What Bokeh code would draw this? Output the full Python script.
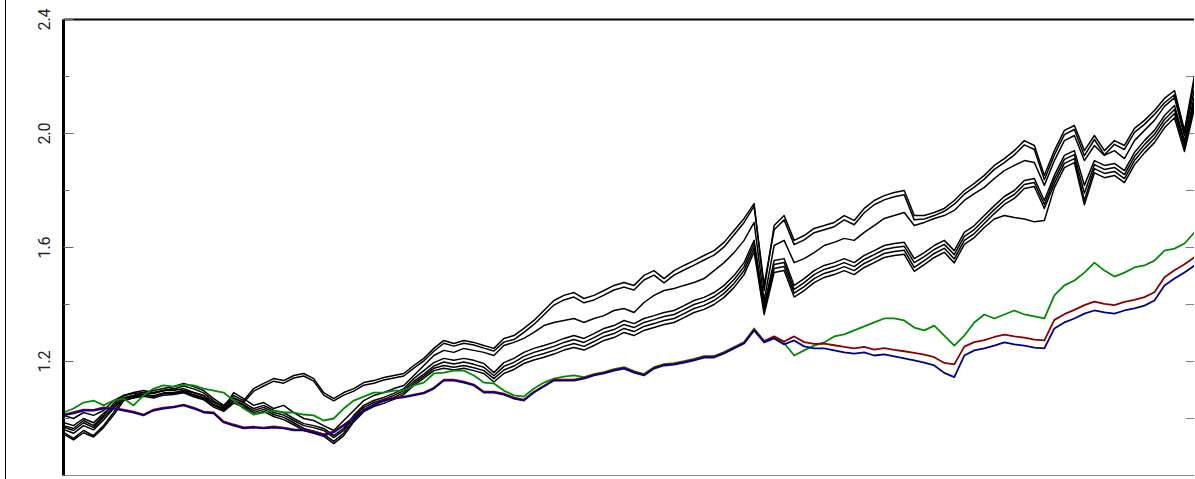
from bokeh.plotting import figure
from bokeh.models import Range1d, LinearAxis, FixedTicker, PrintfTickFormatter
from bokeh.embed import file_html
from bokeh.resources import INLINE

# Growth of 1 invested, sampled at regular observation steps
green_series = [
    1.021, 1.035, 1.056, 1.063, 1.046, 1.063, 1.070, 1.046, 1.081, 1.105,
    1.116, 1.112, 1.119, 1.116, 1.105, 1.098, 1.091, 1.063, 1.035, 1.014,
    1.021, 1.028, 1.021, 1.021, 1.014, 1.011, 0.993, 1.000, 1.035, 1.063,
    1.077, 1.091, 1.091, 1.098, 1.098, 1.116, 1.126, 1.158, 1.161, 1.168,
    1.168, 1.151, 1.126, 1.123, 1.098, 1.081, 1.077, 1.105, 1.126, 1.140,
    1.147, 1.151, 1.145, 1.156, 1.163, 1.173, 1.180, 1.166, 1.156, 1.180,
    1.191, 1.194, 1.201, 1.209, 1.219, 1.219, 1.233, 1.251, 1.268, 1.316,
    1.272, 1.285, 1.265, 1.221, 1.239, 1.256, 1.267, 1.288, 1.295, 1.309,
    1.323, 1.337, 1.351, 1.351, 1.344, 1.319, 1.309, 1.326, 1.291, 1.256,
    1.291, 1.337, 1.365, 1.351, 1.365, 1.379, 1.365, 1.358, 1.351, 1.432,
    1.467, 1.484, 1.512, 1.547, 1.519, 1.498, 1.512, 1.530, 1.537, 1.554,
    1.589, 1.596, 1.614, 1.653,
]

red_series = [
    1.014, 1.022, 1.031, 1.030, 1.039, 1.037, 1.031, 1.024, 1.014, 1.031,
    1.038, 1.042, 1.049, 1.038, 1.024, 1.021, 0.990, 0.979, 0.969, 0.971,
    0.968, 0.972, 0.968, 0.962, 0.961, 0.955, 0.944, 0.955, 0.978, 1.004,
    1.031, 1.049, 1.066, 1.073, 1.077, 1.084, 1.091, 1.108, 1.136, 1.136,
    1.129, 1.119, 1.094, 1.094, 1.087, 1.073, 1.066, 1.094, 1.115, 1.136,
    1.136, 1.136, 1.143, 1.154, 1.161, 1.171, 1.178, 1.164, 1.154, 1.178,
    1.189, 1.192, 1.199, 1.207, 1.217, 1.217, 1.231, 1.249, 1.266, 1.312,
    1.272, 1.288, 1.270, 1.288, 1.268, 1.262, 1.263, 1.257, 1.251, 1.246,
    1.251, 1.242, 1.247, 1.241, 1.236, 1.230, 1.224, 1.215, 1.195, 1.190,
    1.252, 1.268, 1.275, 1.286, 1.294, 1.288, 1.284, 1.277, 1.274, 1.346,
    1.366, 1.381, 1.398, 1.410, 1.402, 1.398, 1.409, 1.416, 1.426, 1.443,
    1.496, 1.520, 1.541, 1.566,
]

blue_series = [
    1.011, 1.018, 1.028, 1.028, 1.035, 1.035, 1.028, 1.021, 1.011, 1.028,
    1.035, 1.039, 1.046, 1.035, 1.021, 1.018, 0.986, 0.975, 0.965, 0.968,
    0.965, 0.968, 0.965, 0.958, 0.958, 0.951, 0.940, 0.951, 0.975, 1.000,
    1.028, 1.046, 1.063, 1.070, 1.074, 1.081, 1.088, 1.105, 1.133, 1.133,
    1.126, 1.116, 1.091, 1.091, 1.084, 1.070, 1.063, 1.091, 1.112, 1.133,
    1.133, 1.133, 1.140, 1.151, 1.158, 1.168, 1.175, 1.161, 1.151, 1.175,
    1.186, 1.189, 1.196, 1.204, 1.214, 1.214, 1.228, 1.246, 1.263, 1.309,
    1.267, 1.281, 1.260, 1.274, 1.253, 1.246, 1.246, 1.239, 1.232, 1.228,
    1.232, 1.221, 1.225, 1.218, 1.211, 1.204, 1.196, 1.186, 1.160, 1.145,
    1.221, 1.239, 1.246, 1.256, 1.267, 1.260, 1.256, 1.249, 1.246, 1.316,
    1.337, 1.351, 1.368, 1.379, 1.372, 1.368, 1.379, 1.386, 1.396, 1.414,
    1.467, 1.491, 1.512, 1.537,
]

black_t1 = [
    0.951, 0.930, 0.958, 0.940, 0.975, 1.021, 1.070, 1.081, 1.091, 1.098,
    1.105, 1.112, 1.123, 1.112, 1.098, 1.070, 1.046, 1.081, 1.063, 1.105,
    1.123, 1.140, 1.133, 1.151, 1.158, 1.140, 1.091, 1.070, 1.091, 1.105,
    1.126, 1.133, 1.144, 1.151, 1.158, 1.186, 1.211, 1.246, 1.274, 1.263,
    1.274, 1.267, 1.256, 1.246, 1.281, 1.291, 1.316, 1.344, 1.379, 1.414,
    1.432, 1.442, 1.421, 1.432, 1.449, 1.467, 1.477, 1.467, 1.502, 1.519,
    1.491, 1.519, 1.537, 1.554, 1.572, 1.589, 1.618, 1.660, 1.702, 1.754,
    1.449, 1.677, 1.712, 1.625, 1.642, 1.667, 1.677, 1.688, 1.712, 1.695,
    1.737, 1.765, 1.782, 1.793, 1.800, 1.712, 1.712, 1.723, 1.737, 1.765,
    1.800, 1.825, 1.853, 1.888, 1.912, 1.940, 1.975, 1.958, 1.853, 1.940,
    2.011, 2.028, 1.940, 1.993, 1.940, 1.975, 1.958, 2.018, 2.046, 2.081,
    2.123, 2.151, 2.011, 2.204,
]

black_t2 = [
    0.945, 0.925, 0.950, 0.935, 0.968, 1.012, 1.062, 1.073, 1.084, 1.090,
    1.097, 1.104, 1.114, 1.104, 1.090, 1.062, 1.040, 1.073, 1.056, 1.096,
    1.114, 1.131, 1.124, 1.142, 1.149, 1.131, 1.082, 1.062, 1.082, 1.096,
    1.117, 1.124, 1.135, 1.142, 1.149, 1.177, 1.202, 1.236, 1.264, 1.254,
    1.264, 1.258, 1.247, 1.237, 1.268, 1.277, 1.302, 1.330, 1.364, 1.398,
    1.416, 1.426, 1.406, 1.416, 1.433, 1.451, 1.461, 1.451, 1.486, 1.503,
    1.476, 1.503, 1.521, 1.538, 1.556, 1.573, 1.602, 1.645, 1.688, 1.745,
    1.470, 1.662, 1.697, 1.610, 1.627, 1.652, 1.662, 1.673, 1.697, 1.680,
    1.722, 1.750, 1.767, 1.778, 1.785, 1.697, 1.700, 1.712, 1.727, 1.752,
    1.787, 1.812, 1.840, 1.874, 1.898, 1.925, 1.960, 1.944, 1.838, 1.925,
    1.996, 2.014, 1.922, 1.979, 1.925, 1.962, 1.944, 2.004, 2.032, 2.067,
    2.108, 2.136, 1.998, 2.188,
]

black_m = [
    1.011, 1.000, 1.021, 1.011, 1.028, 1.063, 1.081, 1.091, 1.098, 1.091,
    1.098, 1.105, 1.098, 1.091, 1.081, 1.046, 1.035, 1.091, 1.070, 1.046,
    1.056, 1.035, 1.046, 1.021, 1.000, 0.993, 0.975, 0.958, 0.993, 1.028,
    1.063, 1.081, 1.091, 1.105, 1.116, 1.151, 1.186, 1.221, 1.239, 1.232,
    1.246, 1.239, 1.232, 1.221, 1.256, 1.267, 1.281, 1.302, 1.326, 1.337,
    1.344, 1.351, 1.337, 1.351, 1.361, 1.379, 1.386, 1.372, 1.407, 1.432,
    1.449, 1.456, 1.467, 1.477, 1.491, 1.519, 1.547, 1.582, 1.625, 1.688,
    1.414, 1.607, 1.625, 1.547, 1.561, 1.582, 1.607, 1.618, 1.632, 1.625,
    1.653, 1.677, 1.702, 1.712, 1.723, 1.677, 1.688, 1.702, 1.712, 1.730,
    1.765, 1.789, 1.811, 1.842, 1.870, 1.888, 1.905, 1.898, 1.818, 1.905,
    1.975, 1.993, 1.905, 1.958, 1.923, 1.940, 1.912, 1.975, 2.011, 2.046,
    2.095, 2.126, 1.993, 2.158,
]

black_l1 = [
    0.975, 0.965, 0.993, 0.975, 1.011, 1.053, 1.081, 1.088, 1.091, 1.088,
    1.098, 1.098, 1.105, 1.091, 1.081, 1.056, 1.042, 1.070, 1.056, 1.035,
    1.046, 1.028, 1.021, 1.000, 0.982, 0.975, 0.965, 0.940, 0.965, 1.011,
    1.046, 1.063, 1.074, 1.088, 1.105, 1.140, 1.168, 1.196, 1.211, 1.204,
    1.211, 1.204, 1.193, 1.161, 1.196, 1.211, 1.232, 1.246, 1.256, 1.267,
    1.281, 1.291, 1.281, 1.298, 1.316, 1.326, 1.344, 1.333, 1.351, 1.361,
    1.372, 1.379, 1.396, 1.414, 1.425, 1.442, 1.467, 1.502, 1.547, 1.625,
    1.396, 1.554, 1.561, 1.467, 1.491, 1.519, 1.537, 1.547, 1.561, 1.547,
    1.572, 1.589, 1.607, 1.614, 1.618, 1.561, 1.582, 1.607, 1.625, 1.589,
    1.653, 1.677, 1.712, 1.747, 1.779, 1.800, 1.835, 1.842, 1.765, 1.853,
    1.923, 1.940, 1.818, 1.905, 1.888, 1.895, 1.870, 1.933, 1.975, 2.011,
    2.063, 2.098, 1.975, 2.133,
]

black_l2 = [
    0.986, 0.975, 1.000, 0.985, 1.018, 1.046, 1.074, 1.080, 1.085, 1.080,
    1.090, 1.091, 1.097, 1.084, 1.074, 1.049, 1.035, 1.063, 1.049, 1.028,
    1.039, 1.021, 1.012, 0.993, 0.975, 0.968, 0.958, 0.933, 0.958, 1.004,
    1.039, 1.056, 1.067, 1.081, 1.098, 1.130, 1.156, 1.184, 1.198, 1.191,
    1.198, 1.190, 1.180, 1.150, 1.183, 1.197, 1.218, 1.232, 1.242, 1.253,
    1.267, 1.277, 1.267, 1.284, 1.302, 1.312, 1.330, 1.319, 1.337, 1.347,
    1.358, 1.365, 1.382, 1.400, 1.411, 1.428, 1.453, 1.488, 1.533, 1.612,
    1.385, 1.540, 1.547, 1.453, 1.477, 1.505, 1.523, 1.533, 1.547, 1.533,
    1.558, 1.575, 1.593, 1.600, 1.604, 1.547, 1.568, 1.593, 1.611, 1.575,
    1.639, 1.663, 1.698, 1.733, 1.765, 1.786, 1.821, 1.828, 1.751, 1.839,
    1.909, 1.926, 1.790, 1.891, 1.874, 1.881, 1.856, 1.919, 1.961, 1.997,
    2.049, 2.084, 1.965, 2.118,
]

black_l3 = [
    0.962, 0.948, 0.975, 0.960, 0.995, 1.035, 1.070, 1.077, 1.082, 1.077,
    1.087, 1.088, 1.094, 1.080, 1.070, 1.046, 1.030, 1.060, 1.046, 1.021,
    1.032, 1.014, 1.004, 0.985, 0.965, 0.955, 0.945, 0.920, 0.948, 0.995,
    1.030, 1.049, 1.060, 1.074, 1.091, 1.123, 1.149, 1.176, 1.186, 1.180,
    1.186, 1.178, 1.168, 1.140, 1.170, 1.184, 1.205, 1.218, 1.228, 1.239,
    1.253, 1.263, 1.253, 1.270, 1.288, 1.298, 1.316, 1.305, 1.323, 1.333,
    1.344, 1.351, 1.368, 1.386, 1.397, 1.414, 1.439, 1.474, 1.519, 1.598,
    1.375, 1.526, 1.533, 1.440, 1.463, 1.491, 1.509, 1.519, 1.533, 1.519,
    1.544, 1.561, 1.579, 1.586, 1.590, 1.530, 1.554, 1.579, 1.597, 1.560,
    1.625, 1.649, 1.684, 1.719, 1.751, 1.772, 1.807, 1.814, 1.737, 1.825,
    1.895, 1.912, 1.765, 1.877, 1.860, 1.867, 1.842, 1.905, 1.947, 1.983,
    2.035, 2.070, 1.951, 2.104,
]

black_l4 = [
    0.970, 0.958, 0.985, 0.968, 1.004, 1.040, 1.066, 1.072, 1.078, 1.072,
    1.082, 1.084, 1.090, 1.076, 1.066, 1.040, 1.025, 1.054, 1.040, 1.014,
    1.025, 1.007, 0.996, 0.978, 0.958, 0.948, 0.938, 0.912, 0.940, 0.988,
    1.024, 1.042, 1.053, 1.067, 1.084, 1.116, 1.142, 1.168, 1.176, 1.170,
    1.176, 1.168, 1.158, 1.128, 1.158, 1.172, 1.193, 1.205, 1.215, 1.226,
    1.240, 1.249, 1.240, 1.256, 1.274, 1.284, 1.302, 1.291, 1.309, 1.319,
    1.330, 1.337, 1.354, 1.372, 1.383, 1.400, 1.425, 1.460, 1.505, 1.585,
    1.365, 1.512, 1.519, 1.426, 1.449, 1.477, 1.495, 1.505, 1.519, 1.505,
    1.530, 1.547, 1.565, 1.572, 1.576, 1.516, 1.540, 1.565, 1.583, 1.546,
    1.611, 1.635, 1.670, 1.700, 1.712, 1.705, 1.700, 1.690, 1.695, 1.810,
    1.880, 1.898, 1.750, 1.862, 1.845, 1.853, 1.828, 1.890, 1.932, 1.968,
    2.020, 2.055, 1.937, 2.090,
]

y_labelled_ticks = [1.2, 1.6, 2.0, 2.4]
y_minor_ticks = [1.0, 1.4, 1.8, 2.2]
y_right_ticks = [1.0, 1.2, 1.4, 1.6, 1.8, 2.0, 2.2]

obs = list(range(len(blue_series)))
x_end = obs[-1]

p = figure(
    width=1189, height=479,
    output_backend="svg", toolbar_location=None,
    x_range=Range1d(0, x_end), y_range=Range1d(0.8, 2.4),
    min_border_left=57, min_border_right=1, min_border_top=19, min_border_bottom=4,
    styles={"margin-left": "5px", "border-left": "1px solid #000000"},
)
p.grid.visible = False
p.outline_line_color = None
p.background_fill_color = "white"
p.border_fill_color = "white"

# bottom edge: plain grey rule, no ticks or labels
xa = p.xaxis[0]
xa.ticker = FixedTicker(ticks=[])
xa.major_tick_in = 0
xa.major_tick_out = 0
xa.minor_tick_in = 0
xa.minor_tick_out = 0
xa.major_label_standoff = 0
xa.axis_line_color = "#8a8a8a"
xa.axis_line_width = 1

# left value axis
ya = p.yaxis[0]
ya.ticker = FixedTicker(ticks=y_labelled_ticks, minor_ticks=y_minor_ticks)
ya.formatter = PrintfTickFormatter(format="%.1f")
ya.axis_line_color = "#000000"
ya.axis_line_width = 3
ya.major_tick_in = 10
ya.major_tick_out = 0
ya.minor_tick_in = 6
ya.minor_tick_out = 0
ya.major_tick_line_color = "#666666"
ya.minor_tick_line_color = "#666666"
ya.major_label_orientation = "parallel"
ya.major_label_standoff = 14
ya.major_label_text_font = "Roboto"
ya.major_label_text_font_size = "16px"
ya.major_label_text_color = "#222222"

# top edge: heavy black rule
top = LinearAxis(ticker=FixedTicker(ticks=[]))
top.major_tick_in = 0
top.major_tick_out = 0
top.minor_tick_in = 0
top.minor_tick_out = 0
top.major_label_standoff = 0
top.axis_line_color = "#000000"
top.axis_line_width = 2
p.add_layout(top, "above")

# right edge: thin grey rule
right = LinearAxis(ticker=FixedTicker(ticks=[]))
right.major_tick_in = 0
right.major_tick_out = 0
right.minor_tick_in = 0
right.minor_tick_out = 0
right.major_label_standoff = 0
right.axis_line_color = "#9a9a9a"
p.add_layout(right, "right")

# inward tick marks along the right edge (half of each dash is clipped by the frame)
p.scatter([x_end] * len(y_right_ticks), y_right_ticks, marker="dash", size=18,
          line_color="#808080", line_width=1)

for series in [black_t1, black_t2, black_m, black_l1, black_l2, black_l3, black_l4]:
    p.line(obs, series, line_color="#000000", line_width=1.5, line_join="round")

p.line(obs, green_series, line_color="#008B00", line_width=1.8, line_join="round")
p.line(obs, red_series, line_color="#8B0000", line_width=1.8, line_join="round")
p.line(obs, blue_series, line_color="#00008B", line_width=1.8, line_join="round")

open("out.html", "w").write(file_html(p, INLINE))
